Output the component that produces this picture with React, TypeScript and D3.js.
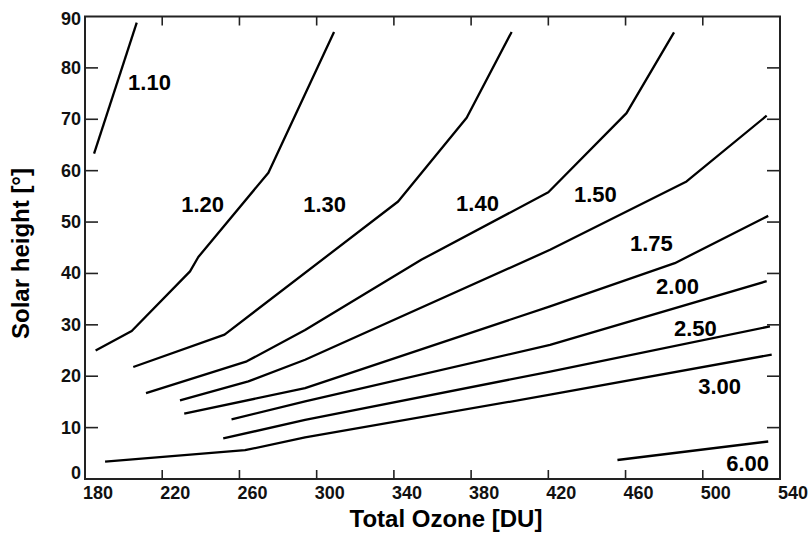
import * as d3 from "d3";

// contour lines: [total ozone DU, solar height deg]
const line110 = [[184.7, 63.3], [206.8, 88.8]];
const line120 = [[185.5, 25.0], [204.2, 28.8], [234.4, 40.4], [238.7, 43.2], [275.0, 59.6], [309.0, 87.0]];
const line130 = [[205.0, 21.8], [252.3, 28.1], [342.2, 54.0], [377.7, 70.3], [401.0, 87.0]];
const line140 = [[211.6, 16.7], [263.8, 22.9], [294.0, 29.0], [354.4, 42.7], [420.0, 55.8], [460.5, 71.2], [485.1, 86.9]];
const line150 = [[229.2, 15.3], [264.6, 19.0], [294.0, 23.2], [420.9, 44.6], [491.6, 57.9], [533.1, 70.7]];
const line175 = [[231.4, 12.7], [294.0, 17.7], [420.9, 33.6], [485.5, 42.0], [533.9, 51.2]];
const line200 = [[255.9, 11.6], [294.0, 15.1], [420.9, 26.1], [533.1, 38.5]];
const line250 = [[251.6, 7.9], [294.0, 11.5], [420.9, 20.9], [534.8, 29.7]];
const line300 = [[190.4, 3.4], [262.9, 5.6], [294.0, 8.1], [420.9, 16.4], [535.7, 24.2]];
const line600 = [[455.8, 3.7], [533.9, 7.3]];

const contourLines = [line110, line120, line130, line140, line150, line175, line200, line250, line300, line600];

// label text and its centre in data units
const labelTexts = ["1.10", "1.20", "1.30", "1.40", "1.50", "1.75", "2.00", "2.50", "3.00", "6.00"];
const labelOzone = [213.4, 240.9, 304.1, 383.3, 444.4, 473.4, 486.9, 496.2, 508.7, 523.2];
const labelHeight = [77.1, 53.4, 53.4, 53.6, 55.3, 45.8, 37.5, 29.3, 18.0, 3.0];

const xTickLabels = [180, 220, 260, 300, 340, 380, 420, 460, 500, 540];
const yTickLabels = [0, 10, 20, 30, 40, 50, 60, 70, 80, 90];

const FONT = "'Liberation Sans', Arial, sans-serif";

export default function App() {
  const width = 812;
  const height = 533;
  const left = 85, right = 780, top = 16.5, bottom = 479;

  const x = d3.scaleLinear().domain([180, 540]).range([left, right]);
  const y = d3.scaleLinear().domain([0, 90]).range([bottom, top]);

  const line = d3
    .line<number[]>()
    .x((d) => x(d[0]))
    .y((d) => y(d[1]));

  const innerX = xTickLabels.slice(1, -1);
  const innerY = yTickLabels.slice(1, -1);

  return (
    <svg
      width={width}
      height={height}
      style={{ position: "absolute", left: 0, top: 0, background: "#fff" }}
      fontFamily={FONT}
    >
      {/* contours */}
      <g fill="none" stroke="#000" strokeWidth={2.3} strokeLinejoin="round">
        {contourLines.map((pts, i) => (
          <path key={i} d={line(pts) ?? ""} />
        ))}
      </g>

      {/* frame */}
      <rect x={left} y={top} width={right - left} height={bottom - top} fill="none" stroke="#222" strokeWidth={2} />

      {/* ticks, pointing inwards on all four sides */}
      <g stroke="#222" strokeWidth={1.6}>
        {innerX.map((v) => (
          <g key={"xt" + v}>
            <line x1={x(v)} x2={x(v)} y1={bottom} y2={bottom - 9} />
            <line x1={x(v)} x2={x(v)} y1={top} y2={top + 9} />
          </g>
        ))}
        {innerY.map((v) => (
          <g key={"yt" + v}>
            <line x1={left} x2={left + 13} y1={y(v)} y2={y(v)} />
            <line x1={right} x2={right - 13} y1={y(v)} y2={y(v)} />
          </g>
        ))}
      </g>

      {/* tick labels */}
      <g fontSize={18} fontWeight="bold" fill="#111">
        {xTickLabels.map((v) => (
          <text key={"xl" + v} x={x(v) - 2} y={499}>
            {v}
          </text>
        ))}
        {yTickLabels.map((v) => (
          <text
            key={"yl" + v}
            x={81}
            y={Math.max(top + 2.5, Math.min(bottom - 6, y(v)))}
            textAnchor="end"
            dominantBaseline="central"
          >
            {v}
          </text>
        ))}
      </g>

      {/* contour labels */}
      <g fontSize={22} fontWeight="bold" fill="#000" textAnchor="middle">
        {labelTexts.map((t, i) => (
          <text key={t} x={x(labelOzone[i])} y={y(labelHeight[i])} dominantBaseline="central">
            {t}
          </text>
        ))}
      </g>

      {/* axis titles */}
      <text x={446} y={527} textAnchor="middle" fontSize={24} fontWeight="bold">
        Total Ozone [DU]
      </text>
      <text
        transform="translate(29,253.5) rotate(-90)"
        textAnchor="middle"
        fontSize={24}
        fontWeight="bold"
      >
        Solar height [°]
      </text>
    </svg>
  );
}
